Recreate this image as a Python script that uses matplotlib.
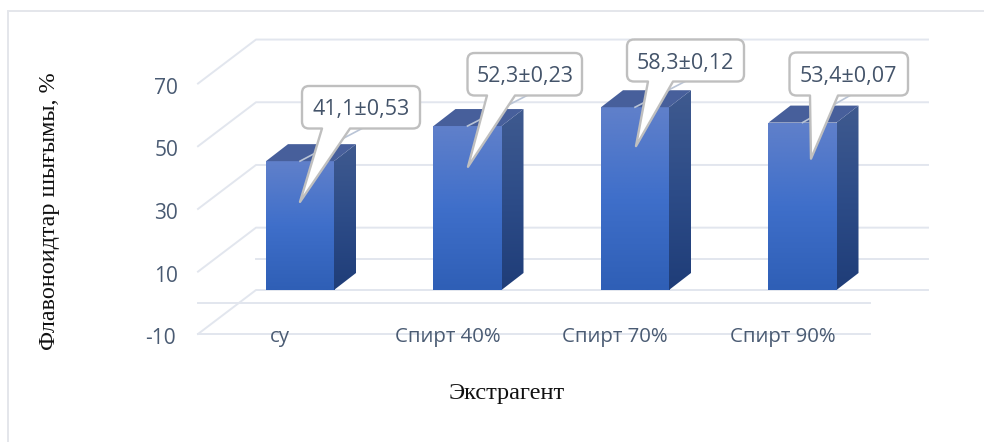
import numpy as np
import matplotlib
matplotlib.use("Agg")
import matplotlib.pyplot as plt
from matplotlib.patches import Polygon, PathPatch, Rectangle
from matplotlib.path import Path
from matplotlib.colors import LinearSegmentedColormap
from matplotlib.transforms import Affine2D

categories = ["су", "Спирт 40%", "Спирт 70%", "Спирт 90%"]
values = [41.1, 52.3, 58.3, 53.4]
value_labels = ["41,1±0,53", "52,3±0,23", "58,3±0,12", "53,4±0,07"]
ticks = [-10, 10, 30, 50, 70]
grid_values = [10, 30, 50, 70]
y_title = "Флавоноидтар шығымы, %"
x_title = "Экстрагент"

W, H = 984, 442
PX_X, X0 = 167.5, 300.0   # px per category, px of first category
PX_Y, Y0 = 3.135, 290.0   # px per unit, px of value 0 at bar front

fig = plt.figure(figsize=(W / 100, H / 100), dpi=100)
ax = fig.add_axes([0, 0, 1, 1])
ax.set_xlim((0 - X0) / PX_X, (W - X0) / PX_X)
ax.set_ylim((Y0 - H) / PX_Y, Y0 / PX_Y)
ax.axis("off")

pix = Affine2D().scale(1, -1).translate(0, H)   # px coords, y down


def box_path(x0, y0, x1, y1, r, tail=None):
    v = [(x0 + r, y0), (x1 - r, y0), (x1, y0), (x1, y0 + r), (x1, y1 - r), (x1, y1), (x1 - r, y1)]
    c = [Path.MOVETO, Path.LINETO, Path.CURVE3, Path.CURVE3, Path.LINETO, Path.CURVE3, Path.CURVE3]
    if tail:
        a, b, tip = tail
        v += [(b, y1), tip, (a, y1)]
        c += [Path.LINETO] * 3
    v += [(x0 + r, y1), (x0, y1), (x0, y1 - r), (x0, y0 + r), (x0, y0), (x0 + r, y0)]
    c += [Path.LINETO, Path.CURVE3, Path.CURVE3, Path.LINETO, Path.CURVE3, Path.CURVE3]
    return Path(v, c)


GRID = "#e2e6ee"
# frame of the picture
ax.add_patch(PathPatch(Path([(8, 442), (8, 11), (984, 11)]), fc="none", ec="#e4e6eb", lw=1.4, transform=pix))

# grid: back wall, side wall, floor
FRONT_X, BACK_X, RIGHT = 198, 256, 928
for g in grid_values:
    yf = 303 - g * 3.135
    yb = yf - 44
    ax.plot([FRONT_X, BACK_X, RIGHT], [yf, yb, yb], color=GRID, lw=1.4, transform=pix, zorder=1)
ax.plot([FRONT_X, BACK_X, RIGHT], [334, 290, 290], color=GRID, lw=1.4, transform=pix, zorder=1)  # -10 level
ax.plot([BACK_X, RIGHT], [259, 259], color=GRID, lw=1.4, transform=pix, zorder=1)
ax.plot([FRONT_X, 870], [303, 303], color=GRID, lw=1.4, transform=pix, zorder=1)
ax.plot([FRONT_X, 870], [334, 334], color=GRID, lw=1.4, transform=pix, zorder=1)

front_cm = LinearSegmentedColormap.from_list("f", ["#6080ca", "#3f6fca", "#2f5fb6"])
side_cm = LinearSegmentedColormap.from_list("s", ["#3f5a8f", "#2d4c88", "#1f3d78"])
BAR_W = 0.406
DX, DY = 22 / PX_X, 17 / PX_Y

for i, v in enumerate(values):
    l, r = i - BAR_W / 2, i + BAR_W / 2
    grad = np.linspace(0, 1, 128)[:, None]
    # front face
    im = ax.imshow(grad, cmap=front_cm, extent=(l, r, 0, v), aspect="auto", origin="upper", zorder=3)
    im.set_clip_path(Rectangle((l, 0), BAR_W, v, transform=ax.transData))
    # side face
    side = Polygon([(r, 0), (r + DX, DY), (r + DX, v + DY), (r, v)], closed=True, fc="none", ec="none",
                   transform=ax.transData)
    ax.add_patch(side)
    im2 = ax.imshow(grad, cmap=side_cm, extent=(r, r + DX, 0, v + DY), aspect="auto", origin="upper", zorder=3)
    im2.set_clip_path(side)
    # top face
    ax.add_patch(Polygon([(l, v), (r, v), (r + DX, v + DY), (l + DX, v + DY)], closed=True,
                         fc="#475f9b", ec="none", zorder=3))
ax.set_xlim((0 - X0) / PX_X, (W - X0) / PX_X)
ax.set_ylim((Y0 - H) / PX_Y, Y0 / PX_Y)

# callouts, in px: box (x0, y0, x1, y1), tail base a, b, tip x
boxes = [(302, 86, 420, 128.5), (467.5, 53, 582, 95.5), (627, 39.5, 744, 81.5), (789.5, 52.5, 908, 95.5)]
tails = [(322, 350, 300), (487, 515, 468), (648, 673, 636), (810, 838, 811)]
tip_drop = [13.0, 13.0, 12.4, 11.5]
for i, v in enumerate(values):
    x0, y0, x1, y1 = boxes[i]
    a, b, tx = tails[i]
    tip_y = Y0 - (v - tip_drop[i]) * PX_Y
    top_y = Y0 - v * PX_Y
    cx = X0 + i * PX_X
    ax.plot([cx, b + 12], [top_y, y1], color="#b9c4d6", lw=1.2, transform=pix, zorder=4)
    ax.add_patch(PathPatch(box_path(x0, y0, x1, y1, 7, (a, b, (tx, tip_y))), fc="white", ec="#bfbfbf",
                           lw=1.7, transform=pix, zorder=5, joinstyle="round"))
    ax.text((x0 + x1) / 2, (y0 + y1) / 2 + 2.5, value_labels[i], transform=pix, ha="center", va="center",
            fontsize=15.5, color="#44546a", family="Open Sans", zorder=6)

# tick labels
for t in ticks:
    ypx = 338.5 - (t + 10) * 3.125
    ax.text(178 if t > 0 else 175.5, ypx, str(t), transform=pix, ha="right", va="center", fontsize=15,
            color="#4a5b73", family="Open Sans")
for i, c in enumerate(categories):
    ax.text(X0 + i * PX_X - 20 if i else 270, 337, c, transform=pix, ha="left" if i == 0 else "center",
            va="center", fontsize=14.7, color="#4a5b73", family="Open Sans")

ax.text(50, 211, y_title, transform=pix, rotation=90, ha="center", va="center", fontsize=17.4,
        color="#111111", family="Liberation Serif")
ax.text(507, 393.5, x_title, transform=pix, ha="center", va="center", fontsize=17.6,
        color="#111111", family="Liberation Serif")

fig.savefig("out.png", dpi=100)
